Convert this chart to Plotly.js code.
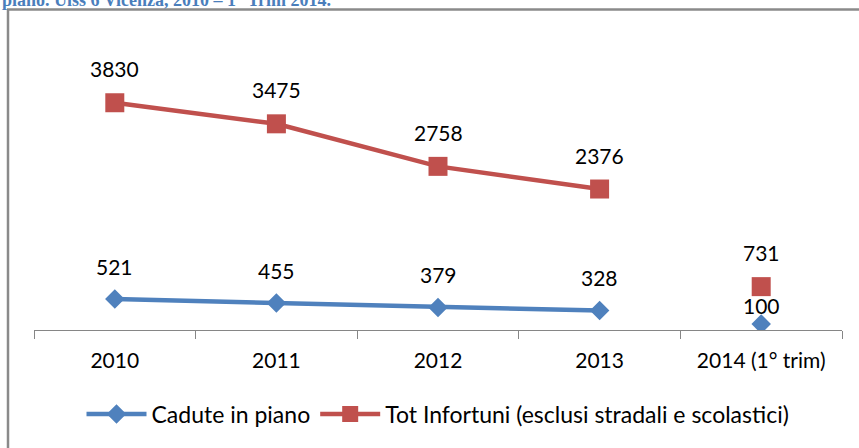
<!DOCTYPE html>
<html>
<head>
<meta charset="utf-8">
<script src="https://cdn.plot.ly/plotly-3.0.1.min.js"></script>
<style>html,body{margin:0;padding:0;background:#fff;}#chart{width:859px;height:448px;}</style>
</head>
<body>
<div id="chart"></div>
<script>
const categories = ["2010", "2011", "2012", "2013", "2014 (1° trim)"];
const seriesNames = ["Cadute in piano", "Tot Infortuni (esclusi stradali e scolastici)"];
const cadute = [521, 455, 379, 328, 100];
const totInfortuni = [3830, 3475, 2758, 2376, 731];
const titleText = "piano. Ulss 6 Vicenza, 2010 – 1° Trim 2014.";

const FONT = "Lato, 'Open Sans', sans-serif";
const blue = "#4f81bd", red = "#c0504d";

const traceCad = {
  x: categories.slice(0, 4), y: cadute.slice(0, 4), name: seriesNames[0],
  type: "scatter", mode: "lines+markers",
  line: {color: blue, width: 4.5},
  marker: {symbol: "diamond", size: 15, color: blue},
  legendgroup: "a"
};
const traceCad2 = {
  x: categories.slice(4), y: cadute.slice(4), name: seriesNames[0],
  type: "scatter", mode: "markers", showlegend: false,
  marker: {symbol: "diamond", size: 15, color: blue}, legendgroup: "a"
};
const traceTot = {
  x: categories.slice(0, 4), y: totInfortuni.slice(0, 4), name: seriesNames[1],
  type: "scatter", mode: "lines+markers",
  line: {color: red, width: 4.5},
  marker: {symbol: "square", size: 19, color: red},
  legendgroup: "b"
};
const traceTot2 = {
  x: categories.slice(4), y: totInfortuni.slice(4), name: seriesNames[1],
  type: "scatter", mode: "markers", showlegend: false,
  marker: {symbol: "square", size: 19, color: red}, legendgroup: "b"
};

const annotations = [];
function addLabels(vals, shiftFn) {
  vals.forEach((v, i) => {
    annotations.push({
      x: i, y: v, xref: "x", yref: "y", text: String(v),
      showarrow: false, xanchor: "center", yanchor: "middle",
      yshift: shiftFn(i), font: {family: FONT, size: 21, color: "#000"}
    });
  });
}
addLabels(totInfortuni, i => 34);
addLabels(cadute, i => (i === 4 ? 19 : 33));

annotations.push({
  text: "<b>" + titleText + "</b>", xref: "paper", yref: "paper", x: 0, y: 1,
  xanchor: "left", yanchor: "bottom", xshift: -34, yshift: 51, showarrow: false,
  font: {family: "'Liberation Serif', serif", size: 18, color: "#4a7ebb"}
});

const layout = {
  width: 859, height: 448,
  margin: {l: 34, r: 17, t: 63, b: 115, pad: 0},
  paper_bgcolor: "#fff", plot_bgcolor: "#fff",
  showlegend: true,
  legend: {orientation: "h", x: 0.5, xanchor: "center", y: -0.315, yanchor: "middle",
           font: {family: FONT, size: 23, color: "#000"}, itemwidth: 60, traceorder: "normal"},
  xaxis: {
    type: "category", range: [-0.5, 4.5], tickson: "boundaries",
    showline: true, linecolor: "#868686", linewidth: 1,
    ticks: "outside", ticklen: 8, tickcolor: "#868686", tickwidth: 1,
    ticklabelstandoff: 12,
    showgrid: false, zeroline: false,
    tickfont: {family: FONT, size: 21, color: "#000"}
  },
  yaxis: {range: [0, 4500], visible: false, showgrid: false, zeroline: false},
  annotations: annotations,
  shapes: [
    {type: "line", xref: "paper", yref: "paper", x0: -26/808, x1: -26/808, y0: 1 + 54/270, y1: -117/270 - 0.01,
     line: {color: "#8a8a8a", width: 2.5}},
    {type: "line", xref: "paper", yref: "paper", x0: -27/808, x1: 1 + 18/808, y0: 1 + 54/270, y1: 1 + 54/270,
     line: {color: "#8a8a8a", width: 2.5}}
  ]
};

Plotly.newPlot("chart", [traceCad, traceTot, traceCad2, traceTot2], layout, {staticPlot: true});
</script>
</body>
</html>
